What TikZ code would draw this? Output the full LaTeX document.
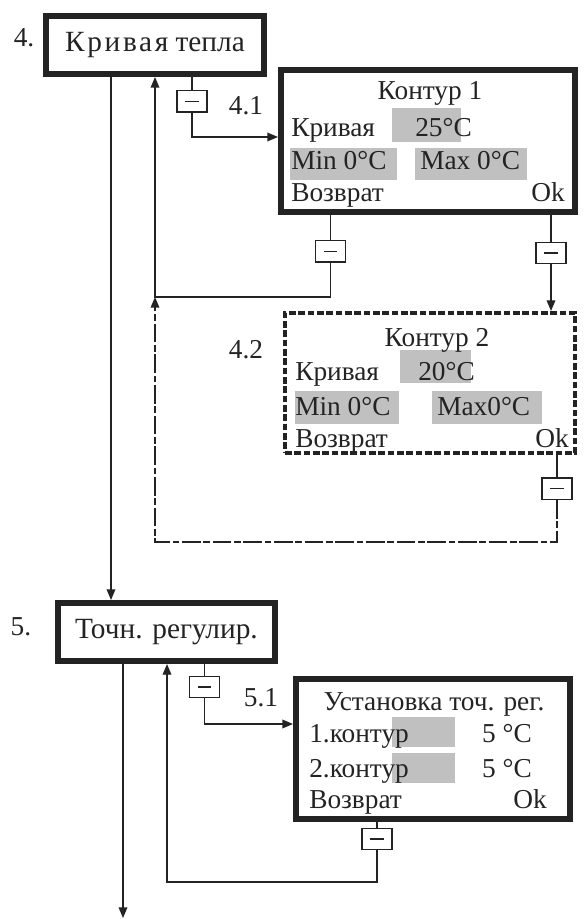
\documentclass[tikz,border=0pt]{standalone}
\usepackage{fontspec}
\setmainfont{Liberation Serif}
\usetikzlibrary{arrows.meta}

\definecolor{ink}{RGB}{35,35,35}
\definecolor{hilite}{RGB}{192,192,192}

\begin{document}
\begin{tikzpicture}[x=0.75pt,y=0.75pt,yscale=-1,xscale=1,
  menubox/.style={draw=ink,line width=4.5pt,inner sep=0pt,text=ink,font=\fontsize{22}{26}\selectfont},
  dotbox/.style={draw=ink,line width=3pt,dash pattern=on 5pt off 2pt,inner sep=0pt},
  keybox/.style={draw=ink,line width=1pt,fill=white,minimum width=22.5pt,minimum height=16pt,inner sep=0pt,
    path picture={\draw[ink,line width=0.9pt] ([xshift=-5pt]path picture bounding box.center) -- ([xshift=5pt]path picture bounding box.center);}},
  txt/.style={inner sep=0pt,anchor=base west,text=ink,font=\fontsize{20.5}{24}\selectfont},
  txtr/.style={txt,anchor=base east},
  txtc/.style={txt,anchor=base},
  wire/.style={ink,line width=1pt},
  flow/.style={wire,-{Triangle[length=8pt,width=6.5pt]}},
  back/.style={flow,dash pattern=on 14pt off 2pt on 5pt off 2pt}]
\useasboundingbox (0,0) rectangle (583,919);

%Shape: Rectangle [menu 4]
\node[menubox,minimum width=163.5pt,minimum height=43.5pt] (heat) at (155,45) {{\addfontfeature{LetterSpace=9}Кривая} тепла};
%Shape: Rectangle [screen 4.1]
\node[menubox,minimum width=220.5pt,minimum height=106.5pt] (circ1) at (428,141) {};
%Shape: Rectangle [screen 4.2]
\node[dotbox,minimum width=217.5pt,minimum height=105pt] (circ2) at (430,383) {};
%Shape: Rectangle [menu 5]
\node[menubox,minimum width=162.75pt,minimum height=43.5pt] (trim) at (166.5,632) {Точн. регулир.};
%Shape: Rectangle [screen 5.1]
\node[menubox,minimum width=205.5pt,minimum height=105pt] (trimset) at (433,749) {};

%Keys
\node[keybox] (key41) at (192,101.5) {};
\node[keybox] (back41) at (330.5,251.5) {};
\node[keybox] (key42) at (551,253) {};
\node[keybox] (back42) at (557,488.5) {};
\node[keybox] (key51) at (204.5,687) {};
\node[keybox] (back51) at (377,839) {};

%Highlights
\fill[hilite] (392,108) rectangle (461,142);
\fill[hilite] (290,148) rectangle (397,180);
\fill[hilite] (415,148) rectangle (527,180);
\fill[hilite] (400,350) rectangle (471,383);
\fill[hilite] (295,391) rectangle (399,424);
\fill[hilite] (432,391) rectangle (542,424);
\fill[hilite] (392,717) rectangle (455,747);
\fill[hilite] (392,753) rectangle (455,783);

% Text Node
\node[txtc] (lab4) at (24,47) {4.};
\node[txtc] (lab41) at (246,115) {4.1};
\node[txtc] (lab42) at (246,358) {4.2};
\node[txtc] (lab5) at (21,635) {5.};
\node[txtc] (lab51) at (261,706) {5.1};

% Text Node [screen 4.1]
\node[txtc] (c1title) at (430,100) {Контур 1};
\node[txt] (c1curve) at (291,137) {Кривая};
\node[txt] (c1val) at (415,137) {25°C};
\node[txt] (c1min) at (291,170) {Min 0°C};
\node[txt] (c1max) at (420,170) {Max 0°C};
\node[txt] (c1ret) at (291,202) {Возврат};
\node[txtr] (c1ok) at (565,202) {Ok};

% Text Node [screen 4.2]
\node[txtc] (c2title) at (437,346) {Контур 2};
\node[txt] (c2curve) at (295,380) {Кривая};
\node[txt] (c2val) at (418,380) {20°C};
\node[txt] (c2min) at (295,415) {Min 0°C};
\node[txt] (c2max) at (437,415) {Max0°C};
\node[txt] (c2ret) at (295,447) {Возврат};
\node[txtr] (c2ok) at (569,447) {Ok};

% Text Node [screen 5.1]
\node[txtc] (s1title) at (434,710) {Установка точ. рег.};
\node[txt] (s1one) at (309,742) {1.контур};
\node[txtr] (s1oneval) at (532,742) {5 °C};
\node[txt] (s1two) at (309,777) {2.контур};
\node[txtr] (s1twoval) at (532,777) {5 °C};
\node[txt] (s1ret) at (309,808) {Возврат};
\node[txtr] (s1ok) at (547,808) {Ok};

\coordinate (join4) at (155,297);
\coordinate (low4) at (155,542);
\coordinate (join5) at (167,882);
\coordinate (exit5) at (123,918);

%Straight Lines [4 -> 5]
\draw[flow] ([xshift=51pt]heat.south west) -- ([xshift=42pt]trim.north west);
%Straight Lines [4 -> 4.1]
\draw[wire] (heat.south -| key41) -- (key41.north);
\draw[flow] (key41.south) |- ([yshift=-3pt]circ1.west);
%Straight Lines [4.1 -> 4]
\draw[wire] (circ1.south -| back41) -- (back41.north);
\draw[flow] (back41.south) |- (join4) -- (join4 |- heat.south);
%Straight Lines [4.1 -> 4.2]
\draw[wire] (circ1.south -| key42) -- (key42.north);
\draw[flow] (key42.south) -- (key42.south |- circ2.north);
%Straight Lines [4.2 -> 4]
\draw[wire] (circ2.south -| back42) -- (back42.north);
\draw[back] (back42.south) |- (low4) -- (join4);
%Straight Lines [5 -> 5.1]
\draw[wire] (trim.south -| key51) -- (key51.north);
\draw[flow] (key51.south) |- ([yshift=-18.75pt]trimset.west);
%Straight Lines [5.1 -> 5]
\draw[wire] (trimset.south -| back51) -- (back51.north);
\draw[flow] (back51.south) |- (join5) -- (join5 |- trim.south);
%Straight Lines [5 -> next]
\draw[flow] (trim.south -| exit5) -- (exit5);

\end{tikzpicture}
\end{document}
